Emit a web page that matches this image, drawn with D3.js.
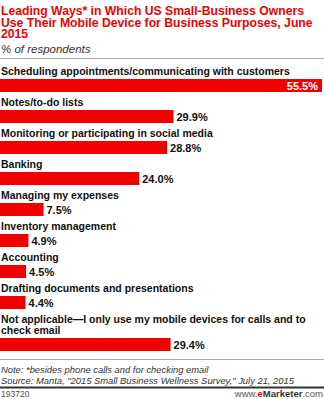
<!DOCTYPE html>
<html>
<head>
<meta charset="utf-8">
<script src="https://cdn.jsdelivr.net/npm/d3@7"></script>
<style>
  html, body { margin: 0; padding: 0; background: #fff; }
  svg { display: block; }
</style>
</head>
<body>
<svg id="chart" width="324" height="399"></svg>
<script>
// Survey answers, one row per bar (label lines split where they wrap)
const categories = [
  ["Scheduling appointments/communicating with customers"],
  ["Notes/to-do lists"],
  ["Monitoring or participating in social media"],
  ["Banking"],
  ["Managing my expenses"],
  ["Inventory management"],
  ["Accounting"],
  ["Drafting documents and presentations"],
  ["Not applicable\u2014I only use my mobile devices for calls and to", "check email"]
];
const values = [55.5, 29.9, 28.8, 24.0, 7.5, 4.9, 4.5, 4.4, 29.4];

const titleLines = [
  "Leading Ways* in Which US Small-Business Owners",
  "Use Their Mobile Device for Business Purposes, June",
  "2015"
];
const subtitle = "% of respondents";
const noteLines = [
  "Note: *besides phone calls and for checking email",
  "Source: Manta, \"2015 Small Business Wellness Survey,\" July 21, 2015"
];
const chartId = "193720";

const W = 324, H = 399;
const RED = "#f20000";
const svg = d3.select("#chart");
const FONT = "'Liberation Sans', Arial, sans-serif";

// Header
svg.append("g").selectAll("text").data(titleLines).join("text")
  .attr("x", 1).attr("y", (d, i) => 15.3 + i * 11.4)
  .attr("font-family", FONT).attr("font-weight", "bold").attr("font-size", 12.2)
  .attr("fill", RED).text(d => d);
svg.append("text").attr("x", 1).attr("y", 52.5)
  .attr("font-family", FONT).attr("font-style", "italic").attr("font-size", 11.5)
  .attr("fill", "#333").text(subtitle);
svg.append("line").attr("x1", 0).attr("x2", W).attr("y1", 58.5).attr("y2", 58.5)
  .attr("stroke", "#aaa").attr("stroke-width", 1);

// Bars
const x = d3.scaleLinear().domain([0, 55.5]).range([0, 322]);
const barH = 13, rowGap = 31, lineH = 11;
const rows = [];
let cursorY = 79;
categories.forEach((lines, i) => {
  const barTop = cursorY + (lines.length - 1) * lineH;
  rows.push({ lines, value: values[i], barTop });
  cursorY = barTop + rowGap;
});

const g = svg.append("g");
const row = g.selectAll("g.row").data(rows).join("g").attr("class", "row");

row.each(function (d) {
  const sel = d3.select(this);
  sel.selectAll("text.lbl").data(d.lines).join("text").attr("class", "lbl")
    .attr("x", 1)
    .attr("y", (l, j) => d.barTop - 4 - (d.lines.length - 1 - j) * lineH)
    .attr("font-family", FONT).attr("font-weight", "bold").attr("font-size", 10.5)
    .attr("fill", "#111").text(l => l);
});

row.append("rect")
  .attr("x", x(0)).attr("y", d => d.barTop)
  .attr("width", d => x(d.value) - x(0)).attr("height", barH)
  .attr("fill", RED);

row.append("text")
  .attr("x", d => d.value > 40 ? x(d.value) - 4 : x(d.value) + 3)
  .attr("y", d => d.barTop + barH / 2 + 4)
  .attr("text-anchor", d => d.value > 40 ? "end" : "start")
  .attr("font-family", FONT).attr("font-weight", "bold").attr("font-size", 11)
  .attr("fill", d => d.value > 40 ? "#fff" : "#111")
  .text(d => d.value.toFixed(1) + "%");

// Footer
svg.append("line").attr("x1", 0).attr("x2", W).attr("y1", 359.5).attr("y2", 359.5)
  .attr("stroke", "#aaa").attr("stroke-width", 1);
svg.append("g").selectAll("text").data(noteLines).join("text")
  .attr("x", 1).attr("y", (d, i) => 373 + i * 10.5)
  .attr("font-family", FONT).attr("font-style", "italic").attr("font-size", 9.4)
  .attr("fill", "#333").text(d => d);
svg.append("rect").attr("x", 0).attr("y", 386.5).attr("width", W).attr("height", 2)
  .attr("fill", "#333");
svg.append("text").attr("x", 1).attr("y", 396.5)
  .attr("font-family", FONT).attr("font-size", 8.5).attr("fill", "#555").text(chartId);
const brand = svg.append("text").attr("x", W - 1).attr("y", 396.5).attr("text-anchor", "end")
  .attr("font-family", FONT).attr("font-size", 9.5).attr("fill", "#555");
brand.append("tspan").text("www.");
brand.append("tspan").attr("fill", RED).attr("font-weight", "bold").text("e");
brand.append("tspan").attr("fill", "#333").attr("font-weight", "bold").text("Marketer");
brand.append("tspan").text(".com");
</script>
</body>
</html>
